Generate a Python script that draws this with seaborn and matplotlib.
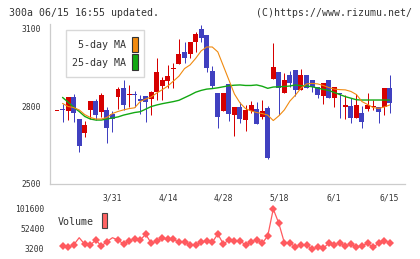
import numpy as np
import pandas as pd
import matplotlib
matplotlib.use("Agg")
import matplotlib.pyplot as plt
from matplotlib.patches import Rectangle
import seaborn as sns

# ---------------- data ----------------
date_labels = ["3/31", "4/14", "4/28", "5/18", "6/1", "6/15"]
date_label_idx = [10, 20, 30, 40, 50, 60]

opens = [2783, 2786, 2782, 2836, 2749, 2697, 2785, 2820, 2778, 2785,
         2768, 2836, 2868, 2844, 2848, 2827, 2838, 2827, 2853, 2878,
         2897, 2943, 2962, 3009, 2999, 3047, 3096, 3073, 2935, 2851,
         2782, 2885, 2765, 2797, 2746, 2781, 2787, 2759, 2791, 2903,
         2930, 2849, 2919, 2938, 2862, 2919, 2900, 2872, 2840, 2900,
         2832, 2851, 2797, 2800, 2753, 2774, 2787, 2796, 2795, 2797,
         2868]
highs = [2783, 2808, 2836, 2846, 2749, 2742, 2820, 2827, 2851, 2795,
         2781, 2875, 2900, 2880, 2858, 2842, 2838, 2858, 2983, 2913,
         2958, 2964, 3058, 3045, 3045, 3086, 3111, 3073, 2954, 2851,
         2851, 2885, 2797, 2814, 2804, 2819, 2817, 2823, 2800, 3043,
         2930, 2926, 2936, 2938, 2942, 2919, 2900, 2872, 2887, 2900,
         2872, 2851, 2842, 2832, 2846, 2800, 2849, 2823, 2795, 2868,
         2919]
lows = [2783, 2740, 2746, 2740, 2624, 2682, 2749, 2746, 2759, 2659,
        2701, 2790, 2785, 2797, 2797, 2768, 2740, 2765, 2823, 2823,
        2868, 2868, 2962, 2964, 2983, 3009, 3047, 2932, 2870, 2717,
        2782, 2742, 2686, 2733, 2705, 2774, 2730, 2750, 2595, 2903,
        2765, 2849, 2874, 2838, 2862, 2868, 2855, 2832, 2808, 2832,
        2797, 2753, 2750, 2733, 2753, 2717, 2782, 2785, 2736, 2765,
        2774]
closes = [2783, 2784, 2833, 2772, 2647, 2727, 2820, 2765, 2842, 2717,
          2749, 2865, 2804, 2848, 2843, 2819, 2817, 2853, 2930, 2900,
          2917, 2947, 3000, 2983, 3045, 3077, 3060, 2945, 2878, 2759,
          2851, 2768, 2797, 2750, 2785, 2804, 2730, 2781, 2601, 2951,
          2871, 2900, 2890, 2862, 2919, 2868, 2874, 2842, 2887, 2832,
          2872, 2845, 2804, 2753, 2804, 2737, 2804, 2798, 2778, 2868,
          2813]

# moving averages and volume for candles 1..60
ma5 = [2810, 2798, 2794, 2785, 2767, 2756, 2750, 2750, 2756, 2771,
       2779, 2785, 2790, 2793, 2817, 2827, 2835, 2850, 2863, 2877,
       2896, 2915, 2944, 2958, 2983, 3012, 3027, 3027, 3008, 2954,
       2900, 2846, 2812, 2790, 2781, 2775, 2771, 2765, 2744, 2762,
       2785, 2819, 2842, 2869, 2885, 2887, 2885, 2879, 2871, 2865,
       2863, 2862, 2856, 2844, 2817, 2806, 2794, 2791, 2796, 2804]
ma25 = [2833, 2815, 2795, 2779, 2760, 2750, 2746, 2746, 2750, 2754,
        2758, 2765, 2770, 2775, 2778, 2788, 2798, 2804, 2809, 2813,
        2817, 2822, 2832, 2842, 2853, 2860, 2865, 2867, 2870, 2874,
        2878, 2880, 2881, 2879, 2879, 2881, 2876, 2868, 2873, 2874,
        2875, 2877, 2881, 2878, 2877, 2874, 2869, 2864, 2860, 2852,
        2844, 2836, 2830, 2824, 2823, 2823, 2823, 2823, 2823, 2823]
volume = [10580, 7380, 13040, 31000, 14760, 13040, 25340, 10580, 21160, 31000,
          25340, 15500, 23620, 27800, 25340, 39360, 17220, 22880, 29520, 27060,
          27060, 19680, 19680, 13040, 13040, 19680, 23620, 19680, 40100, 15500,
          25340, 23620, 23620, 13040, 21160, 25340, 17220, 35180, 101600, 66400,
          18700, 17220, 8860, 13040, 13040, 3200, 7380, 4920, 17220, 13040,
          18700, 10580, 15500, 7380, 11320, 17220, 7380, 17220, 23620, 18700]
vol_no_marker = [4, 10]

price_ticks = [2500, 2800, 3100]
vol_ticks = [3200, 52400, 101600]

# ---------------- style ----------------
sns.set_theme(style="white")
plt.rcParams["font.family"] = ["DejaVu Sans Mono"]
TXT = "#333333"
GRID = "#cccccc"
UP = "#d60000"
DOWN = "#4040c0"
C_MA5 = "#f08a10"
C_MA25 = "#12a812"
C_VOL = "#ff5a5f"

W, H = 420, 259
fig = plt.figure(figsize=(W / 100, H / 100), dpi=100)
fig.patch.set_facecolor("white")

def fx(px):
    return px / W

def fy(py):
    return 1 - py / H

x0, x1 = -1.262, 62.81
ax = fig.add_axes([fx(50), fy(184), fx(405.3) - fx(50), fy(24) - fy(184)])
ax.set_xlim(x0, x1)
ax.set_ylim(2500, 3115.4)
ax.set_facecolor("white")

df = pd.DataFrame({"o": opens, "h": highs, "l": lows, "c": closes})
df["i"] = np.arange(len(df))
df["up"] = df["c"] >= df["o"]
colors = np.where(df["up"], UP, DOWN)

ax.vlines(df["i"], df["l"], df["h"], colors=colors, linewidth=0.72, zorder=3)
diff = (df["c"] - df["o"]).abs()
mid = (df["c"] + df["o"]) / 2
body_h = np.maximum(diff, 4)
body_bottom = np.where(diff < 4, mid - 2, np.minimum(df["o"], df["c"]))
ax.bar(df["i"], body_h, bottom=body_bottom, width=0.9, color=colors,
       edgecolor="none", linewidth=0, zorder=4)

ma_df = pd.DataFrame({"i": np.arange(1, 61), "ma5": ma5, "ma25": ma25, "vol": volume})
sns.lineplot(data=ma_df, x="i", y="ma25", ax=ax, color=C_MA25, linewidth=1.0, zorder=5)
sns.lineplot(data=ma_df, x="i", y="ma5", ax=ax, color=C_MA5, linewidth=0.8, zorder=5)

for s in ["top", "right"]:
    ax.spines[s].set_visible(False)
for s in ["left", "bottom"]:
    ax.spines[s].set_color(GRID)
    ax.spines[s].set_linewidth(0.9)
ax.set_xlabel("")
ax.set_ylabel("")
ax.set_yticks(price_ticks)
ax.set_yticklabels([str(t) for t in price_ticks], fontsize=5.8, color=TXT)
ax.set_xticks(np.linspace(-1.136, x1, 12))
ax.set_xticklabels([])
ax.tick_params(axis="both", direction="inout", length=7, width=0.9, color=GRID, pad=3)

# legend box
fig.add_artist(Rectangle((fx(65.5), fy(77.3)), fx(143.5) - fx(65.5), fy(30) - fy(77.3),
                         transform=fig.transFigure, facecolor="white", edgecolor="#d8d8d8",
                         linewidth=1.0, zorder=10))
fig.text(fx(125.5), fy(45.5), "5-day MA", ha="right", va="center", fontsize=7.2, color=TXT, zorder=11)
fig.text(fx(125.5), fy(62.5), "25-day MA", ha="right", va="center", fontsize=7.2, color=TXT, zorder=11)
fig.add_artist(Rectangle((fx(131.7), fy(52.3)), fx(138.3) - fx(131.7), fy(36.7) - fy(52.3),
                         transform=fig.transFigure, facecolor=C_MA5, edgecolor="#333333",
                         linewidth=0.8, zorder=11))
fig.add_artist(Rectangle((fx(131.7), fy(69.7)), fx(138.3) - fx(131.7), fy(54.3) - fy(69.7),
                         transform=fig.transFigure, facecolor=C_MA25, edgecolor="#333333",
                         linewidth=0.8, zorder=11))

# volume panel
axv = fig.add_axes([fx(50), fy(253), fx(405.3) - fx(50), fy(205) - fy(253)])
axv.set_xlim(x0, x1)
axv.set_ylim(-6640, 111440)
axv.set_facecolor("none")
sns.lineplot(data=ma_df, x="i", y="vol", ax=axv, color=C_VOL, linewidth=0.9, zorder=3)
mk = ma_df[~ma_df["i"].isin(vol_no_marker)]
axv.plot(mk["i"], mk["vol"], linestyle="none", marker="D", markersize=4.2,
         color=C_VOL, markeredgewidth=0, zorder=4)
for s in axv.spines.values():
    s.set_visible(False)
axv.set_xlabel("")
axv.set_ylabel("")
axv.set_yticks(vol_ticks)
axv.set_yticklabels([str(t) for t in vol_ticks], fontsize=5.8, color=TXT)
axv.xaxis.tick_top()
axv.set_xticks(date_label_idx)
axv.set_xticklabels(date_labels, fontsize=5.8, color=TXT)
axv.tick_params(axis="both", length=0, pad=4)
axv.tick_params(axis="x", pad=2)

fig.text(fx(58), fy(222), "Volume", ha="left", va="center", fontsize=7.2, color=TXT)
fig.add_artist(Rectangle((fx(101.7), fy(228.3)), fx(107.3) - fx(101.7), fy(212.7) - fy(228.3),
                         transform=fig.transFigure, facecolor="#ff6363", edgecolor="#444444",
                         linewidth=0.8, zorder=11))

# header
fig.text(fx(9), fy(12.5), "300a 06/15 16:55 updated.", ha="left", va="center", fontsize=7.1, color=TXT)
fig.text(fx(412), fy(12.5), "(C)https://www.rizumu.net/", ha="right", va="center", fontsize=7.1, color=TXT)

fig.savefig("out.png", dpi=100, facecolor="white")
